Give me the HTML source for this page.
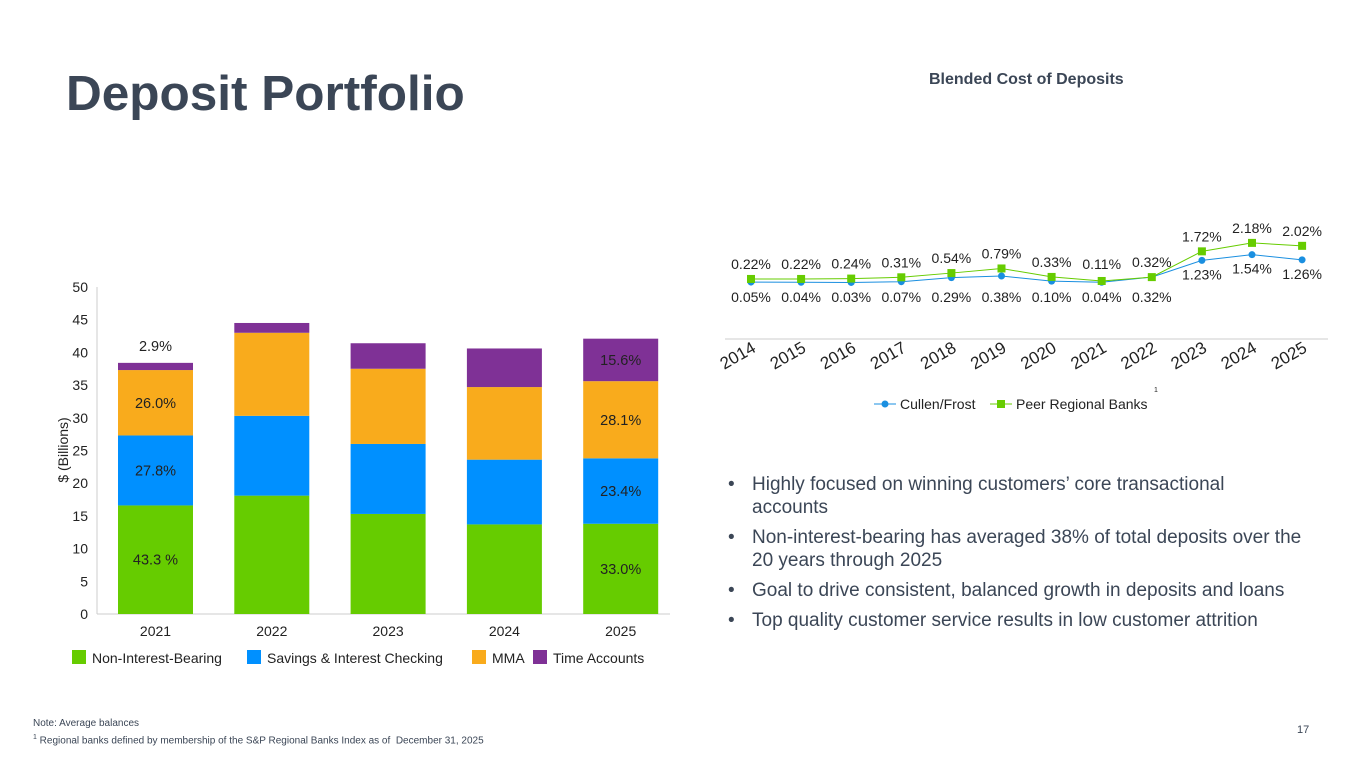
<!DOCTYPE html>
<html><head><meta charset="utf-8">
<style>
body{margin:0;width:1365px;height:768px;background:#fff;font-family:"Liberation Sans",sans-serif;overflow:hidden;position:relative}
.t{position:absolute;white-space:nowrap}
ul{position:absolute;left:728px;top:473px;width:600px;margin:0;padding:0;list-style:none;color:#3b4656;font-size:19px;line-height:23px}
li{position:relative;padding-left:24px;margin-bottom:7px;white-space:nowrap}
li:before{content:"•";position:absolute;left:0}
</style></head><body>
<div class="t" style="left:66px;top:65px;font-size:49.5px;font-weight:bold;color:#3b4656">Deposit Portfolio</div>
<div class="t" style="left:929px;top:71px;font-size:16px;font-weight:bold;color:#3b4656">Blended Cost of Deposits</div>
<svg id="s" width="1365" height="768" style="position:absolute;left:0;top:0" font-family="Liberation Sans, sans-serif"></svg>
<ul>
<li>Highly focused on winning customers’ core transactional<br>accounts</li>
<li>Non-interest-bearing has averaged 38% of total deposits over the<br>20 years through 2025</li>
<li>Goal to drive consistent, balanced growth in deposits and loans</li>
<li>Top quality customer service results in low customer attrition</li>
</ul>
<div class="t" style="left:33px;top:717px;font-size:10px;line-height:14px;color:#3b4656">Note: Average balances<br><sup style="font-size:7px">1</sup> Regional banks defined by membership of the S&amp;P Regional Banks Index as of &nbsp;December 31, 2025</div>
<div class="t" style="left:1297px;top:724px;font-size:11px;color:#3b4656">17</div>
<script>
const years=['2021','2022','2023','2024','2025'];
const nib=[16.6,18.1,15.3,13.7,13.8];
const sav=[10.7,12.2,10.7,9.9,10.0];
const mma=[10.0,12.7,11.5,11.1,11.8];
const timeAcc=[1.1,1.5,3.9,5.9,6.5];
const yTicks=[0,5,10,15,20,25,30,35,40,45,50];
const barLabels=[['43.3 %','27.8%','26.0%','2.9%'],null,null,null,['33.0%','23.4%','28.1%','15.6%']];
const lineYears=['2014','2015','2016','2017','2018','2019','2020','2021','2022','2023','2024','2025'];
const cullen=[0.05,0.04,0.03,0.07,0.29,0.38,0.10,0.04,0.32,1.23,1.54,1.26];
const peer=[0.22,0.22,0.24,0.31,0.54,0.79,0.33,0.11,0.32,1.72,2.18,2.02];
const NS='http://www.w3.org/2000/svg',s=document.getElementById('s');
function el(t,a,txt){const e=document.createElementNS(NS,t);for(const k in a)e.setAttribute(k,a[k]);if(txt!=null)e.textContent=txt;s.appendChild(e);return e;}
// bar chart
const by=v=>614-v*6.54, bx=i=>155.5+i*116.3, bw=75;
let e=el('line',{x1:97,y1:614,x2:670,y2:614,stroke:'#ccc'});

e=el('line',{x1:97,y1:287,x2:97,y2:614,stroke:'#ccc'});

yTicks.forEach(v=>{const t=el('text',{x:88,y:by(v)+5,'text-anchor':'end','font-size':14,fill:'#222'},v);
});
e=el('text',{transform:'translate(68,450) rotate(-90)','text-anchor':'middle','font-size':14,fill:'#222'},'$ (Billions)');

const series=[nib,sav,mma,timeAcc],cols=['#66cc00','#0090ff','#f9ab1c','#7f3196'],snames=['non-interest-bearing','savings','mma','time-accounts'];
years.forEach((y,i)=>{let base=0;
 series.forEach((sr,k)=>{const r=el('rect',{x:bx(i)-bw/2,y:by(base+sr[i]),width:bw,height:sr[i]*6.54,fill:cols[k]});
  
  if(barLabels[i]){const ly=k==3&&i==0?by(base+sr[i])-12:by(base+sr[i]/2)+5;
   const t=el('text',{x:bx(i),y:ly,'text-anchor':'middle','font-size':14.5,fill:'#222'},barLabels[i][k]);
   }
  base+=sr[i];});
 const t=el('text',{x:bx(i),y:636,'text-anchor':'middle','font-size':14,fill:'#222'},y);
 });
const leg=[['Non-Interest-Bearing',72],['Savings & Interest Checking',247],['MMA',472],['Time Accounts',533]];
leg.forEach((l,k)=>{const r=el('rect',{x:l[1],y:650,width:14,height:14,fill:cols[k]});
 
 const t=el('text',{x:l[1]+20,y:663,'font-size':14,fill:'#222'},l[0]);
 });
// line chart
const lx=i=>751+i*50.1, ly=v=>283-v*18.4;
e=el('line',{x1:725,y1:339,x2:1328,y2:339,stroke:'#ccc'});

lineYears.forEach((y,i)=>{const t=el('text',{transform:`translate(${lx(i)+6},${351}) rotate(-30)`,'text-anchor':'end','font-size':17,fill:'#222'},y);
 });
const ls=[[cullen,'#1a8fe0','cullen-frost'],[peer,'#66cc00','peer-regional-banks']];
ls.forEach(([d,c,n],k)=>{const p=el('polyline',{points:d.map((v,i)=>lx(i)+','+ly(v)).join(' '),fill:'none',stroke:c,'stroke-width':1});
 
 d.forEach((v,i)=>{const m=k==0?el('circle',{cx:lx(i),cy:ly(v),r:3.5,fill:c}):el('rect',{x:lx(i)-4,y:ly(v)-4,width:8,height:8,fill:c});
  
  const ty=k==1?ly(v)-10:ly(v)+19;
  const ty2=k==0&&i<9?Math.max(ty,302):ty;
  const t=el('text',{x:lx(i),y:k==1&&i<9?Math.min(ty,269):ty2,'text-anchor':'middle','font-size':14,fill:'#222'},v.toFixed(2)+'%');
  });});
e=el('line',{x1:874,y1:404,x2:896,y2:404,stroke:'#1a8fe0'});
e=el('circle',{cx:885,cy:404,r:3.5,fill:'#1a8fe0'});
e=el('text',{x:900,y:409,'font-size':14,fill:'#222'},'Cullen/Frost');
e=el('line',{x1:990,y1:404,x2:1012,y2:404,stroke:'#66cc00'});
e=el('rect',{x:997,y:400,width:8,height:8,fill:'#66cc00'});
e=el('text',{x:1016,y:409,'font-size':14,fill:'#222'},'Peer Regional Banks');
e=el('text',{x:1154,y:392,'font-size':7,fill:'#222'},'1');
</script>
</body></html>
